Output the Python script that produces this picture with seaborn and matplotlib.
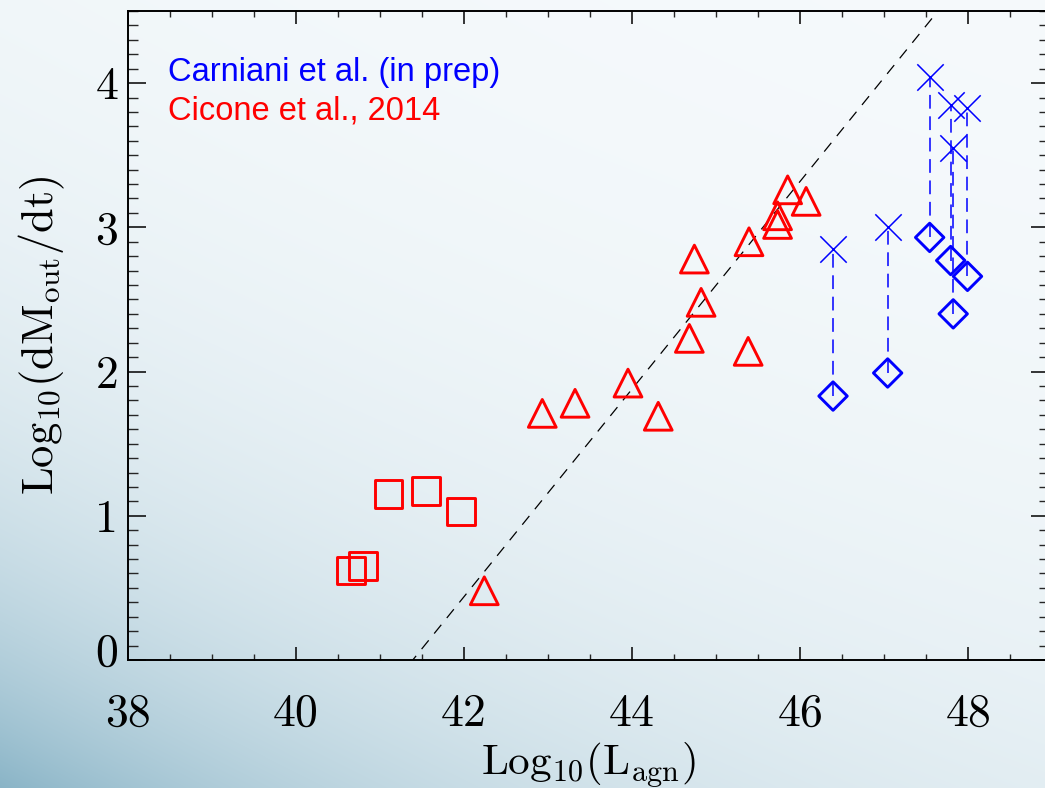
import numpy as np
import matplotlib
matplotlib.use("Agg")
import matplotlib.pyplot as plt
import matplotlib.transforms as mtransforms
from matplotlib.ticker import MultipleLocator
import seaborn as sns

# Cicone et al. 2014 - low-luminosity sources (squares)
sq_lagn = [40.65, 40.80, 41.10, 41.55, 41.96]
sq_mdot = [0.62, 0.65, 1.15, 1.17, 1.03]

# Cicone et al. 2014 - AGN-dominated sources (triangles)
tri_lagn = [42.24, 42.93, 43.32, 43.95, 44.31, 44.68, 44.74, 44.82,
            45.38, 45.39, 45.73, 45.73, 45.85, 46.07]
tri_mdot = [0.48, 1.71, 1.78, 1.92, 1.69, 2.23, 2.78, 2.48,
            2.14, 2.90, 3.02, 3.08, 3.26, 3.18]

# Carniani et al. (in prep) - upper (crosses) and lower (diamonds) estimates
car_lagn = [46.39, 47.04, 47.54, 47.79, 47.82, 47.99]
car_upper = [2.85, 3.00, 4.04, 3.85, 3.55, 3.83]
car_lower = [1.83, 1.99, 2.93, 2.77, 2.40, 2.66]

# Cicone et al. 2014 scaling relation: log Mdot = a * log L - b
rel_slope = 0.72
rel_intercept = -29.8

x_ticks = [38, 40, 42, 44, 46, 48]
y_ticks = [0, 1, 2, 3, 4]

sns.set_style("ticks")
plt.rcParams["mathtext.fontset"] = "cm"
plt.rcParams["axes.formatter.use_mathtext"] = True

W, H = 1045, 788
fig = plt.figure(figsize=(W / 100, H / 100), dpi=100)

# Slide background: pale top fading into a blue lower-left corner
bg_ax = fig.add_axes([0, 0, 1, 1], zorder=-10)
yy, xx = np.mgrid[0:H, 0:W]
f = np.exp(-xx / 480.0) * np.exp(-(H - yy) / 270.0) * 0.85
f = f + 0.07 * (yy / H) ** 2
f = np.clip(f, 0, 1)[..., None]
top_col = np.array([246, 250, 252]) / 255.0
corner_col = np.array([128, 174, 194]) / 255.0
img = top_col * (1 - f) + corner_col * f
bg_ax.imshow(img, aspect="auto", extent=[0, 1, 0, 1], origin="upper")
bg_ax.axis("off")
fig.patch.set_facecolor(top_col)

left, right = 128 / W, 1049 / W
bottom, top = 1 - 660 / H, 1 - 11 / H
ax = fig.add_axes([left, bottom, right - left, top - bottom])
ax.patch.set_alpha(0)

# Scaling relation
rel_x = np.array([38.0, 49.5])
ax.plot(rel_x, rel_slope * rel_x + rel_intercept, color="black", lw=0.9,
        dashes=(9, 7), zorder=1)

# Connectors between upper and lower estimates
ax.vlines(car_lagn, car_lower, car_upper, colors="blue", lw=1.1,
          linestyles=(0, (9, 5)), zorder=2)

sns.scatterplot(x=sq_lagn, y=sq_mdot, marker="s", s=20 ** 2,
                color="red", facecolor="none", edgecolor="red",
                linewidth=2.1, ax=ax, zorder=3)
sns.scatterplot(x=tri_lagn, y=tri_mdot, marker="^", s=20 ** 2,
                color="red", facecolor="none", edgecolor="red",
                linewidth=2.1, ax=ax, zorder=3)
sns.scatterplot(x=car_lagn, y=car_upper, marker="x", s=19 ** 2,
                color="blue", linewidth=1.1, ax=ax, zorder=4)
sns.scatterplot(x=car_lagn, y=car_lower, marker="D", s=14.5 ** 2,
                color="blue", facecolor="none", edgecolor="blue",
                linewidth=2.1, ax=ax, zorder=4)

ax.set_xlim(38, 48.96)
ax.set_ylim(0, 4.5)
ax.set_xticks(x_ticks)
ax.set_yticks(y_ticks)
ax.set_xticklabels([str(v) for v in x_ticks])
ax.set_yticklabels([str(v) for v in y_ticks])
ax.xaxis.set_minor_locator(MultipleLocator(0.5))
ax.yaxis.set_minor_locator(MultipleLocator(0.1))

for side in ["left", "bottom", "top", "right"]:
    ax.spines[side].set_visible(True)
    ax.spines[side].set_linewidth(1.4)
    ax.spines[side].set_color("black")

ax.tick_params(axis="x", which="major", direction="in", length=9.5, width=1.1,
               top=True, bottom=True, pad=24, labelsize=33, colors="black")
ax.tick_params(axis="x", which="minor", direction="in", length=4.5, width=1.0,
               top=True, bottom=True)
ax.tick_params(axis="y", which="major", direction="in", length=13, width=1.1,
               left=True, right=True, pad=7, labelsize=33, colors="black")
ax.tick_params(axis="y", which="minor", direction="in", length=7, width=1.0,
               left=True, right=True)
for lab in ax.get_xticklabels() + ax.get_yticklabels():
    lab.set_fontfamily("cmr10")

# lift the zero label off the lower axis
zero_lab = ax.get_yticklabels()[0]
zero_lab.set_transform(zero_lab.get_transform() +
                       mtransforms.ScaledTranslation(0, 11 / 100, fig.dpi_scale_trans))

ax.set_xlabel(r"$\mathrm{Log_{10}(L_{agn})}$", fontsize=31, color="black")
ax.set_ylabel(r"$\mathrm{Log_{10}(dM_{out}/dt)}$", fontsize=32, color="black")
ax.xaxis.set_label_coords(0.5, -(765 - 660) / (660 - 11), transform=ax.transAxes)
ax.xaxis.label.set_va("center")
ax.yaxis.set_label_coords(-(128 - 42) / (1049 - 128), 0.5, transform=ax.transAxes)
ax.yaxis.label.set_va("center")

fig.text(168 / W, 1 - 81 / H, "Carniani et al. (in prep)", color="blue",
         fontsize=23.5, family="Liberation Sans", va="baseline")
fig.text(168 / W, 1 - 119 / H, "Cicone et al., 2014", color="red",
         fontsize=23.5, family="Liberation Sans", va="baseline")

fig.savefig("out.png", dpi=100, facecolor=fig.get_facecolor())
